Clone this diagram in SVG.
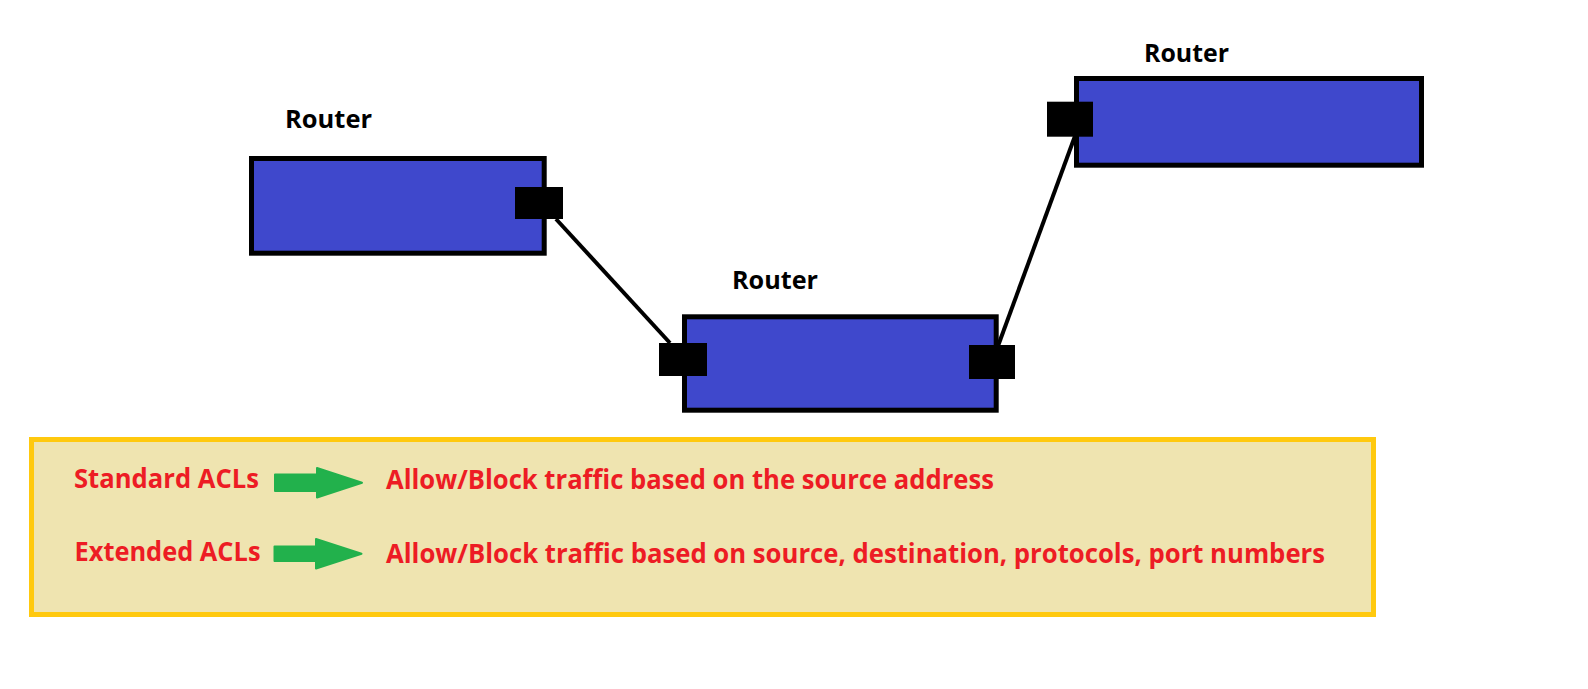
<svg xmlns="http://www.w3.org/2000/svg" width="1588" height="689" viewBox="0 0 1588 689">
<style>
.router{fill:#3f48cc;stroke:#000;stroke-width:5}
.port{fill:#000}
.lbl{font-family:"Open Sans","Liberation Sans",Arial,sans-serif;font-weight:bold;font-size:25px;fill:#000}
.acl{font-family:"Open Sans","Liberation Sans",Arial,sans-serif;font-weight:bold;font-size:26px;fill:#ed1c24}
.link{stroke:#000;stroke-width:4;fill:none}
.garrow{fill:#22b14c;stroke:#22b14c;stroke-width:2;stroke-linejoin:round}
</style>
<rect width="1588" height="689" fill="#fff"/>
<g id="connectors">
<line class="link" x1="556" y1="219" x2="670" y2="343"/>
<line class="link" x1="1075" y1="136" x2="998" y2="346"/>
</g>
<g id="router1">
<text class="lbl" x="285" y="128" textLength="87" lengthAdjust="spacingAndGlyphs">Router</text>
<rect class="router" x="251.5" y="158.5" width="292.7" height="94.7"/>
<rect class="port" x="515" y="187" width="48" height="32"/>
</g>
<g id="router2">
<text class="lbl" x="732" y="289" textLength="86" lengthAdjust="spacingAndGlyphs">Router</text>
<rect class="router" x="684.5" y="316.8" width="311.7" height="93.4"/>
<rect class="port" x="659" y="343" width="48" height="33"/>
<rect class="port" x="969" y="345" width="46" height="34"/>
</g>
<g id="router3">
<text class="lbl" x="1144" y="62" textLength="85" lengthAdjust="spacingAndGlyphs">Router</text>
<rect class="router" x="1076.5" y="78.5" width="345" height="86.7"/>
<rect class="port" x="1047" y="101.7" width="46" height="35"/>
</g>
<g id="legend">
<rect x="31.5" y="439.5" width="1342" height="175" fill="#efe4b0" stroke="#ffc90e" stroke-width="5"/>
<text class="acl" x="74" y="488" textLength="185" lengthAdjust="spacingAndGlyphs">Standard ACLs</text>
<path class="garrow" d="M275,474.5 L317,474.5 L317,468 L362,482.7 L317,497.5 L317,491 L275,491 Z"/>
<text class="acl" x="386" y="489" textLength="608" lengthAdjust="spacingAndGlyphs">Allow/Block traffic based on the source address</text>
<text class="acl" x="74.5" y="561" textLength="186" lengthAdjust="spacingAndGlyphs">Extended ACLs</text>
<path class="garrow" d="M274.5,546.5 L316,546.5 L316,539 L361.5,553.7 L316,568.5 L316,561 L274.5,561 Z"/>
<text class="acl" x="386" y="562.5" textLength="939" lengthAdjust="spacingAndGlyphs">Allow/Block traffic based on source, destination, protocols, port numbers</text>
</g>
</svg>
